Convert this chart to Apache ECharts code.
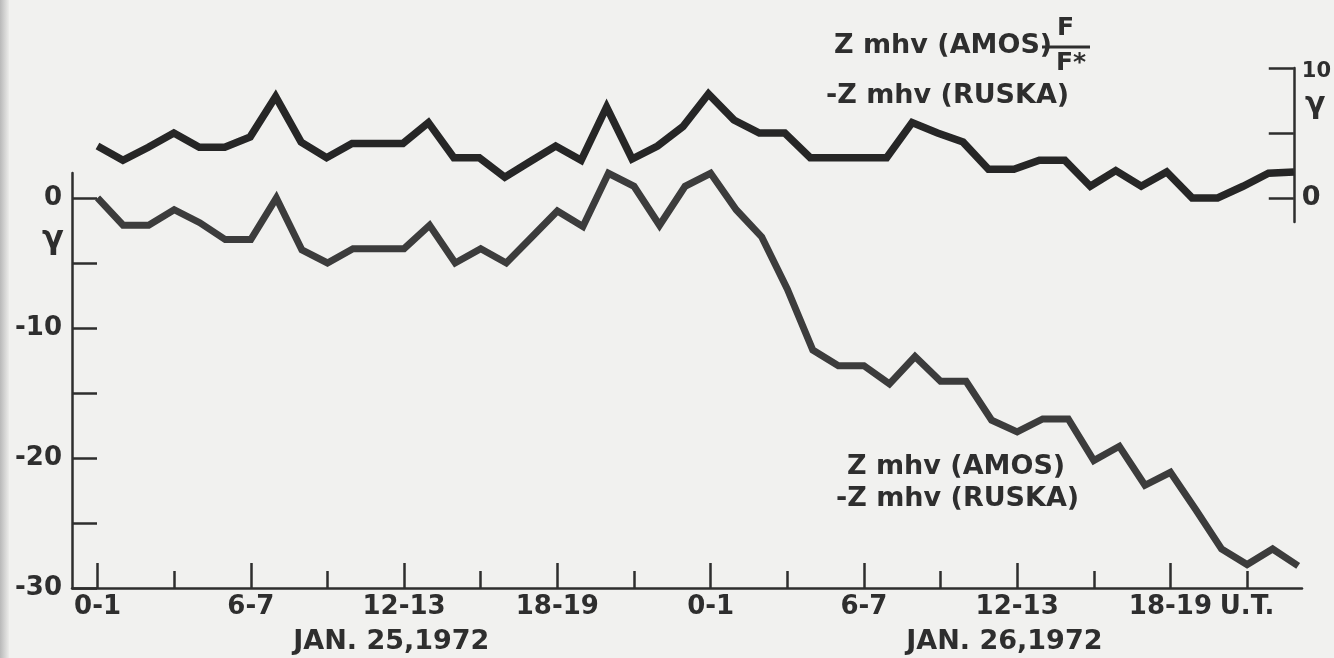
<!DOCTYPE html>
<html>
<head>
<meta charset="UTF-8">
<title></title>
<style>
  html, body { margin: 0; padding: 0; background: #f1f1ef; }
  #chart { width: 1334px; height: 658px; }
</style>
<script src="https://cdn.jsdelivr.net/npm/echarts@6/dist/echarts.min.js"></script>
</head>
<body>
<div id="chart"></div>
<script>
// hour index from 0-1 U.T. Jan 25 to 23-24 U.T. Jan 26
var hours = [0, 1, 2, 3, 4, 5, 6, 7, 8, 9, 10, 11, 12, 13, 14, 15, 16, 17, 18, 19, 20, 21, 22, 23,
             24, 25, 26, 27, 28, 29, 30, 31, 32, 33, 34, 35, 36, 37, 38, 39, 40, 41, 42, 43, 44, 45, 46, 47];

// Z mhv(AMOS) F/F* - Z mhv(RUSKA), gammas (right scale)
var corrected = [4.0, 2.9, 3.9, 5.0, 3.9, 3.9, 4.7, 7.8, 4.3, 3.1, 4.2, 4.2, 4.2, 5.8, 3.1, 3.1,
                 1.6, 2.8, 4.0, 2.9, 7.0, 3.0, 4.0, 5.5, 8.0, 6.0, 5.0, 5.0, 3.1, 3.1, 3.1, 3.1,
                 5.8, 5.0, 4.3, 2.2, 2.2, 2.9, 2.9, 0.9, 2.1, 0.9, 2.0, 0.0, 0.0, 0.9, 1.9, 2.0];

// Z mhv(AMOS) - Z mhv(RUSKA), gammas (left scale)
var raw = [0, -2.1, -2.1, -0.9, -1.9, -3.2, -3.2, 0, -4.0, -5.0, -3.9, -3.9, -3.9, -2.1, -5.0, -3.9,
           -5.0, -3.0, -1.0, -2.2, 1.9, 0.9, -2.1, 0.9, 1.9, -0.9, -3.0, -7.0, -11.7, -12.9, -12.9, -14.3,
           -12.2, -14.1, -14.1, -17.1, -18.0, -17.0, -17.0, -20.2, -19.1, -22.1, -21.1, -24.0, -27.0, -28.2, -27.0, -28.3];

var majorTicks = [0, 6, 12, 18, 24, 30, 36, 42];
var minorTicks = [3, 9, 15, 21, 27, 33, 39, 45];
var hourLabelPos = [0, 6, 12, 18, 24, 30, 36, 42, 45];
var hourLabels = ['0-1', '6-7', '12-13', '18-19', '0-1', '6-7', '12-13', '18-19', 'U.T.'];
var datePos = [11.5, 35.5];
var dateLabels = ['JAN. 25,1972', 'JAN. 26,1972'];
var leftTicks = [0, -5, -10, -15, -20, -25, -30];
var leftLabels = [0, -10, -20, -30];
var rightTicks = [0, 5, 10];

var ink = '#2e2e2e';
var font = 'DejaVu Sans';

function pairs(ys) {
  return hours.map(function (h, i) { return [h, ys[i]]; });
}
function lookup(pos, labels) {
  return function (v) {
    for (var i = 0; i < pos.length; i++) {
      if (Math.abs(pos[i] - v) < 0.01) return labels[i];
    }
    return '';
  };
}

var chart = echarts.init(document.getElementById('chart'));

var option = {
  backgroundColor: '#f1f1ef',
  animation: false,
  grid: [
    { left: 72, right: 32, top: 173, bottom: 70 },
    { left: 72, right: 32, top: 68, bottom: 436 }
  ],
  xAxis: [
    {
      gridIndex: 0, type: 'value', position: 'bottom', min: -1, max: 47.15,
      splitLine: { show: false },
      axisLine: { onZero: false, lineStyle: { color: ink, width: 2.5 } },
      axisTick: { inside: true, length: 25, customValues: majorTicks, lineStyle: { color: ink, width: 2.5 } },
      axisLabel: {
        customValues: hourLabelPos, formatter: lookup(hourLabelPos, hourLabels),
        margin: 6, color: ink, fontFamily: font, fontWeight: 'bold', fontSize: 26, lineHeight: 27
      }
    },
    {
      gridIndex: 0, type: 'value', position: 'bottom', min: -1, max: 47.15,
      splitLine: { show: false },
      axisLine: { show: false, onZero: false },
      axisTick: { inside: true, length: 17, customValues: minorTicks, lineStyle: { color: ink, width: 2.5 } },
      axisLabel: { show: false }
    },
    {
      gridIndex: 0, type: 'value', position: 'bottom', min: -1, max: 47.15,
      splitLine: { show: false },
      axisLine: { show: false, onZero: false },
      axisTick: { show: false },
      axisLabel: {
        customValues: datePos, formatter: lookup(datePos, dateLabels),
        margin: 40, color: ink, fontFamily: font, fontWeight: 'bold', fontSize: 27, lineHeight: 28
      }
    },
    {
      gridIndex: 1, type: 'value', min: -1, max: 47.15, show: false,
      axisLine: { onZero: false }
    }
  ],
  yAxis: [
    {
      gridIndex: 0, type: 'value', position: 'left', min: -30, max: 1.92,
      splitLine: { show: false },
      axisLine: { onZero: false, lineStyle: { color: ink, width: 2.5 } },
      axisTick: { inside: true, length: 25, customValues: leftTicks, lineStyle: { color: ink, width: 2.5 } },
      axisLabel: {
        customValues: leftLabels, formatter: function (v) { return String(v); },
        margin: 10, color: ink, fontFamily: font, fontWeight: 'bold', fontSize: 26
      }
    },
    {
      gridIndex: 1, type: 'value', position: 'right', offset: -4, min: -1.85, max: 10,
      splitLine: { show: false },
      axisLine: { onZero: false, lineStyle: { color: ink, width: 2.5 } },
      axisTick: { inside: true, length: 25, customValues: rightTicks, lineStyle: { color: ink, width: 2.5 } },
      axisLabel: {
        customValues: [0, 10],
        formatter: function (v) { return v === 10 ? '{s|10}' : '{b|0}'; },
        margin: 8, color: ink,
        rich: {
          s: { fontFamily: font, fontWeight: 'bold', fontSize: 21, color: ink, padding: [8, 0, 0, 0] },
          b: { fontFamily: font, fontWeight: 'bold', fontSize: 27, color: ink }
        }
      }
    }
  ],
  graphic: [
    {
      type: 'rect', left: 0, top: 0, z: -1,
      shape: { width: 9, height: 658 },
      style: { fill: new echarts.graphic.LinearGradient(0, 0, 1, 0, [
        { offset: 0, color: '#b9b9b9' }, { offset: 1, color: '#ececea' }
      ]) }
    },
    // gamma unit marks
    { type: 'text', x: 42, y: 224, style: { text: 'γ', font: 'bold 32px "DejaVu Sans"', fill: ink } },
    { type: 'text', x: 1305, y: 90, style: { text: 'γ', font: 'bold 30px "DejaVu Sans"', fill: ink } },
    // upper curve label
    { type: 'text', x: 834, y: 32, style: { text: 'Z mhv (AMOS)', font: 'bold 27px "DejaVu Sans"', fill: ink } },
    { type: 'text', x: 1057, y: 16, style: { text: 'F', font: 'bold 25px "DejaVu Sans"', fill: ink } },
    { type: 'line', shape: { x1: 1042, y1: 47, x2: 1090, y2: 47 }, style: { stroke: ink, lineWidth: 3 } },
    { type: 'text', x: 1056, y: 51, style: { text: 'F*', font: 'bold 25px "DejaVu Sans"', fill: ink } },
    { type: 'text', x: 826, y: 82, style: { text: '-Z mhv (RUSKA)', font: 'bold 27px "DejaVu Sans"', fill: ink } },
    // lower curve label
    { type: 'text', x: 847, y: 453, style: { text: 'Z mhv (AMOS)', font: 'bold 27px "DejaVu Sans"', fill: ink } },
    { type: 'text', x: 836, y: 485, style: { text: '-Z mhv (RUSKA)', font: 'bold 27px "DejaVu Sans"', fill: ink } }
  ],
  series: [
    {
      name: 'Z mhv (AMOS) F/F* - Z mhv (RUSKA)',
      type: 'line', xAxisIndex: 3, yAxisIndex: 1,
      data: pairs(corrected), showSymbol: false, clip: false,
      lineStyle: { color: '#262626', width: 7.5, join: 'miter', cap: 'butt' }
    },
    {
      name: 'Z mhv (AMOS) - Z mhv (RUSKA)',
      type: 'line', xAxisIndex: 0, yAxisIndex: 0,
      data: pairs(raw), showSymbol: false, clip: false,
      lineStyle: { color: '#3c3c3c', width: 7, join: 'miter', cap: 'butt' }
    }
  ]
};

chart.setOption(option);
</script>
</body>
</html>
